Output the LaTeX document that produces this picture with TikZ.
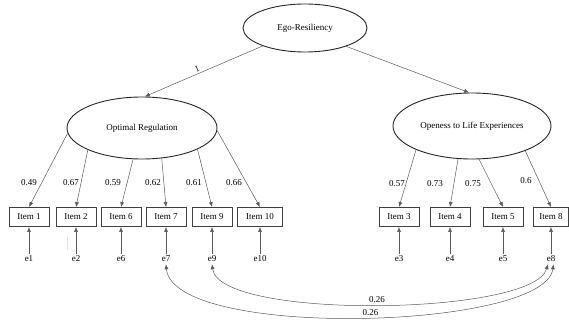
\documentclass[tikz,border=0pt]{standalone}
\usepackage{fontspec}
\setmainfont{Liberation Serif}
\usetikzlibrary{arrows.meta,shapes.geometric}

\tikzset{
  latent/.style={ellipse,draw=black!85,line width=0.9pt,inner sep=0pt},
  itembox/.style={rectangle,draw=black!75,line width=0.9pt,minimum height=19pt,inner xsep=8.4pt,inner ysep=0pt},
  errlabel/.style={inner sep=2pt},
  loadlabel/.style={inner sep=1pt},
  regline/.style={draw=black!65,line width=0.5pt,-{Latex[length=5pt,width=4pt]}},
  corrline/.style={draw=black!65,line width=0.5pt,{Latex[length=5pt,width=4pt]}-{Latex[length=5pt,width=4pt]}}
}

\begin{document}
\begin{tikzpicture}
  [x=1pt,y=-1pt,font=\fontsize{9}{10}\selectfont]
\useasboundingbox (0,0) rectangle (569,320);
  % latent factors
  \node[latent,minimum width=124pt,minimum height=48pt] (ego) at (305,28) {Ego-Resiliency};
  \node[latent,minimum width=150pt,minimum height=62pt] (optreg) at (142,128) {Optimal Regulation};
  \node[latent,minimum width=158pt,minimum height=66pt] (open) at (472,126) {Openess to Life Experiences};

  % observed items
  \node[itembox] (i1) at (29,217) {Item 1};
  \node[itembox] (i2) at (76,217) {Item 2};
  \node[itembox] (i6) at (121,217) {Item 6};
  \node[itembox] (i7) at (166,217) {Item 7};
  \node[itembox] (i9) at (212,217) {Item 9};
  \node[itembox] (i10) at (260,217) {Item 10};
  \node[itembox] (i3) at (399,217) {Item 3};
  \node[itembox] (i4) at (450,217) {Item 4};
  \node[itembox] (i5) at (503,217) {Item 5};
  \node[itembox,inner xsep=6pt] (i8) at (551,217) {Item 8};

  % errors
  \node[errlabel] (e1) at (29,259) {e1};
  \node[errlabel] (e2) at (76,259) {e2};
  \node[errlabel] (e6) at (121,259) {e6};
  \node[errlabel] (e7) at (166,259) {e7};
  \node[errlabel] (e9) at (212,259) {e9};
  \node[errlabel] (e10) at (260,259) {e10};
  \node[errlabel] (e3) at (399,259) {e3};
  \node[errlabel] (e4) at (450,259) {e4};
  \node[errlabel] (e5) at (503,259) {e5};
  \node[errlabel] (e8) at (551,259) {e8};

  % loadings
  \node[loadlabel] (l1) at (29,183) {0.49};
  \node[loadlabel] (l2) at (71,183) {0.67};
  \node[loadlabel] (l6) at (113,183) {0.59};
  \node[loadlabel] (l7) at (153,183) {0.62};
  \node[loadlabel] (l9) at (194,183) {0.61};
  \node[loadlabel] (l10) at (234,183) {0.66};
  \node[loadlabel] (l3) at (397,184) {0.57};
  \node[loadlabel] (l4) at (435,184) {0.73};
  \node[loadlabel] (l5) at (473,184) {0.75};
  \node[loadlabel] (l8) at (526,181) {0.6};

  \draw[regline] (ego.203) -- (optreg.85)
    node[pos=0.54,above,sloped,inner sep=1.5pt] (fix) {1};
  \draw[regline] (ego.336) -- (open.95);

  \foreach \ang/\to in {184/i1, 202/i2, 254/i6, 303/i7, 339/i9, 358/i10}
    \draw[regline] (optreg.\ang) -- (\to.north);
  \foreach \ang/\to in {203/i3, 247/i4, 282/i5, 335/i8}
    \draw[regline] (open.\ang) -- (\to.north);

  \foreach \from/\to in {e1/i1, e2/i2, e6/i6, e7/i7, e9/i9, e10/i10, e3/i3, e4/i4, e5/i5, e8/i8}
    \draw[regline] (\from) -- (\to);

  % residual covariances
  \draw[corrline] (e7.south) .. controls (173,340) and (545,330) .. (e8.-65)
    node[pos=0.52,above,inner sep=1.5pt] (c78) {0.26};
  \draw[corrline] (e9.south) .. controls (219,320) and (533,316) .. (e8.-120)
    node[pos=0.5,above,inner sep=1.5pt] (c98) {0.26};

  \draw[black!12,line width=1pt] (67,237) -- (67,250);
\end{tikzpicture}
\end{document}
